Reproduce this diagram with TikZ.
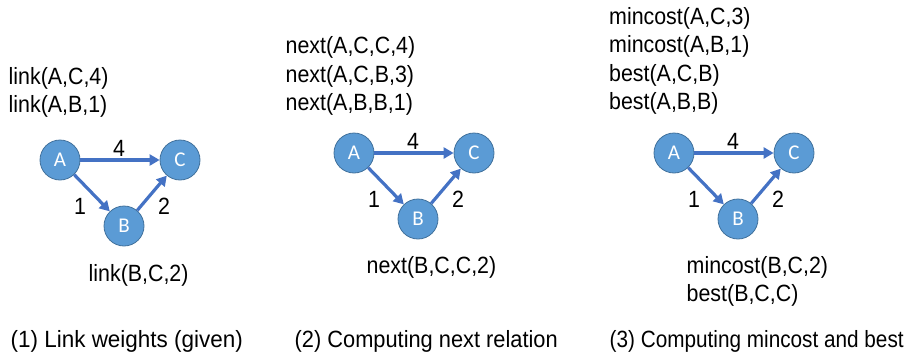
\documentclass[tikz,border=0pt]{standalone}
\usepackage{fontspec}
\setmainfont{Liberation Sans}[FakeStretch=0.91]
\newfontfamily\labelfont{Carlito}
\usetikzlibrary{arrows.meta}
\definecolor{nodeblue}{HTML}{5B9BD5}
\definecolor{nodeline}{HTML}{41719C}
\definecolor{edgeblue}{HTML}{4472C4}
\tikzset{
  vertex/.style={circle, fill=nodeblue, draw=nodeline, line width=0.8pt,
    minimum size=40pt, inner sep=0pt, text=white,
    font=\labelfont\fontsize{21}{21}\selectfont},
  edge/.style={-{Triangle[length=10pt,width=11pt]}, edgeblue, line width=3.2pt},
  facts/.style={anchor=north west, align=left, inner sep=0pt,
    font=\fontsize{23.5}{28.5}\selectfont},
  weight/.style={inner sep=0pt, font=\fontsize{23.5}{28}\selectfont},
}
\begin{document}
\begin{tikzpicture}[x=1pt, y=-1pt, line join=round]
        \useasboundingbox (0,0) rectangle (909,356);
        % the same triangle in each panel
        \foreach \i/\ax/\ay in {1/60/160, 2/354/153, 3/674/153}{
          \begin{scope}[shift={(\ax,\ay)}]
            \node[vertex] (A\i) at (0,0) {A};
            \node[vertex] (B\i) at (64,66) {B};
            \node[vertex] (C\i) at (120,0) {C};
            \draw[edge] (A\i) -- (C\i);
            \draw[edge] (A\i) -- (B\i);
            \draw[edge] (B\i) -- (C\i);
            \node[weight] (wac\i) at (59,-12) {4};
            \node[weight] (wab\i) at (20,46) {1};
            \node[weight] (wbc\i) at (104,46) {2};
          \end{scope}
        }
        % (1)
        \node[facts] (top1) at (8.5,67) {link(A,C,4)\\link(A,B,1)};
        \node[facts] (bot1) at (88.5,264.5) {link(B,C,2)};
        % (2)
        \node[facts] (top2) at (285.5,36.5) {next(A,C,C,4)\\next(A,C,B,3)\\next(A,B,B,1)};
        \node[facts] (bot2) at (366.5,256) {next(B,C,C,2)};
        % (3)
        \node[facts] (top3) at (609,7) {mincost(A,C,3)\\mincost(A,B,1)\\best(A,C,B)\\best(A,B,B)};
        \node[facts] (bot3) at (686.5,256) {mincost(B,C,2)\\best(B,C,C)};
        % captions
        \node[facts] (cap1) at (10.5,330) {\scalebox{1.05}[1]{(1) Link weights (given)}};
        \node[facts] (cap2) at (294.5,330) {\scalebox{1.02}[1]{(2) Computing next relation}};
        \node[facts] (cap3) at (609.5,330) {\scalebox{0.97}[1]{(3) Computing mincost and best}};
\end{tikzpicture}
\end{document}
